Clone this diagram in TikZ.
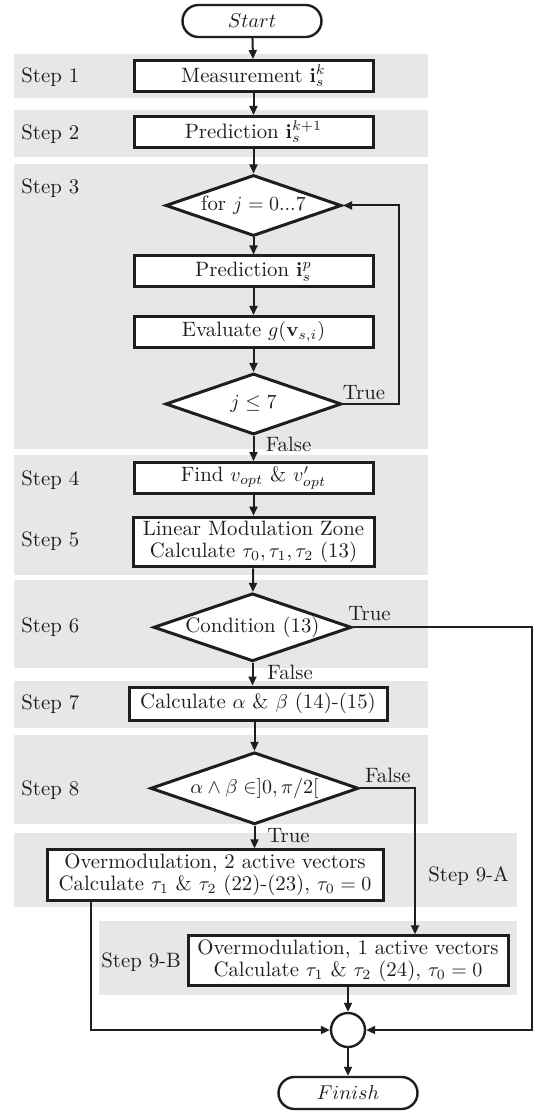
\documentclass[tikz,border=0pt]{standalone}
\usetikzlibrary{shapes.geometric,arrows.meta}
\definecolor{bandgray}{RGB}{230,231,233}
\definecolor{ink}{RGB}{30,30,30}
\begin{document}
\begin{tikzpicture}[x=0.5pt,y=-0.5pt,
  font=\fontsize{10.4}{11}\selectfont,
  every node/.style={text=ink},
  box/.style={draw=ink, line width=1.5pt, fill=white, minimum width=119.5pt, minimum height=15.5pt, inner sep=0pt, align=center},
  dia/.style={draw=ink, line width=1.5pt, fill=white, shape=diamond, aspect=3, inner sep=0pt},
  term/.style={draw=ink, line width=1.2pt, fill=white, rounded corners=8pt, minimum width=69.5pt, minimum height=16pt, inner sep=0pt},
  arr/.style={draw=ink, line width=1pt, -{Triangle[length=4.5pt,width=4pt]}},
  steplbl/.style={anchor=base west, inner sep=0pt},
  lbl/.style={anchor=base west, inner sep=0pt}]
\useasboundingbox (0,0) rectangle (537,1112);
% bands
\fill[bandgray] (14.4,54) rectangle (428,97.7);
\fill[bandgray] (14.4,110) rectangle (428,156.7);
\fill[bandgray] (14.4,164) rectangle (428,449.3);
\fill[bandgray] (14.4,455) rectangle (428,575);
\fill[bandgray] (14.4,580) rectangle (428,668.3);
\fill[bandgray] (14.4,681) rectangle (428,727.7);
\fill[bandgray] (14.4,735) rectangle (428,824);
\fill[bandgray] (14.4,833.3) rectangle (517,906.7);
\fill[bandgray] (99.3,921) rectangle (517,995);
% step labels
\node[steplbl] (s1) at (21,83) {Step 1};
\node[steplbl] (s2) at (21,140) {Step 2};
\node[steplbl] (s3) at (21,193.3) {Step 3};
\node[steplbl] (s4) at (21,485) {Step 4};
\node[steplbl] (s5) at (21,546.7) {Step 5};
\node[steplbl] (s6) at (21,632.7) {Step 6};
\node[steplbl] (s7) at (21,709.3) {Step 7};
\node[steplbl] (s8) at (21,795) {Step 8};
\node[steplbl] (s9a) at (428,881.7) {Step 9-A};
\node[steplbl] (s9b) at (101,967.3) {Step 9-B};
% nodes
\node[term] (start) at (252,21) {$Start$};
\node[box] (meas) at (253.5,76) {Measurement $\mathbf{i}_s^k$};
\node[box] (pred1) at (253.5,132) {Prediction $\mathbf{i}_s^{k+1}$};
\node[dia, minimum width=88pt, minimum height=30.5pt] (d1) at (253.5,205.5) {for $j=0...7$};
\node[box] (pred2) at (253.5,271.5) {Prediction $\mathbf{i}_s^p$};
\node[box] (eval) at (253.5,332) {Evaluate $g(\mathbf{v}_{s,i})$};
\node[dia, minimum width=88pt, minimum height=30.5pt] (d2) at (253.5,404) {$j\leq 7$};
\node[box] (find) at (253.5,478) {Find $v_{opt}$ \& $v'_{opt}$};
\node[box, minimum width=120.5pt, minimum height=24.8pt] (lin) at (253.5,542) {Linear Modulation Zone\\Calculate $\tau_0,\tau_1,\tau_2$ (13)};
\node[dia, minimum width=99pt, minimum height=34pt] (d3) at (252.5,627.3) {Condition (13)};
\node[box, minimum width=129pt, minimum height=16.5pt] (calc) at (258,703.5) {Calculate $\alpha$ \& $\beta$ (14)-(15)};
\node[dia, minimum width=104pt, minimum height=36pt] (d4) at (254.5,788.3) {$\alpha\wedge\beta\in]0,\pi/2[$};
\node[box, minimum width=168pt, minimum height=25.2pt] (om2) at (215,875) {Overmodulation, 2 active vectors\\Calculate $\tau_1$ \& $\tau_2$ (22)-(23), $\tau_0=0$};
\node[box, minimum width=160pt, minimum height=24.7pt] (om1) at (348,960.5) {Overmodulation, 1 active vectors\\Calculate $\tau_1$ \& $\tau_2$ (24), $\tau_0=0$};
\node[circle, draw=ink, line width=1.2pt, minimum size=17pt, inner sep=0pt, fill=white] (join) at (348,1030) {};
\node[term] (finish) at (348,1093) {$Finish$};
% helper coordinates
\coordinate (loopx) at (399,300);
\coordinate (fx) at (415,850);
\coordinate (rx) at (532,800);
\coordinate (lx) at (90.7,950);
% connectors
\draw[arr] (start) -- (meas);
\draw[arr] (meas) -- (pred1);
\draw[arr] (pred1) -- (d1);
\draw[arr] (d1) -- (pred2);
\draw[arr] (pred2) -- (eval);
\draw[arr] (eval) -- (d2);
\draw[arr] (d2.east) -- (d2.east -| loopx) -- (d1.east -| loopx) -- (d1.east);
\draw[arr] (d2) -- (find);
\draw[arr] (find) -- (lin);
\draw[arr] (lin) -- (d3);
\draw[arr] (d3.south) -- (d3.south |- calc.north);
\draw[arr] (calc.south -| d4.north) -- (d4.north);
\draw[arr] (d4.south) -- (d4.south |- om2.north);
\draw[arr] (d4.east) -- (d4.east -| fx) -- (fx |- om1.north);
\draw[arr] (d3.east) -- (d3.east -| rx) -- (rx |- join.east) -- (join.east);
\draw[arr] (om2.south -| lx) -- (lx |- join.west) -- (join.west);
\draw[arr] (om1) -- (join);
\draw[arr] (join) -- (finish);
% branch labels
\node[lbl] (t1) at (342.5,399.3) {True};
\node[lbl] (f1) at (265.4,451.7) {False};
\node[lbl] (t2) at (348,620) {True};
\node[lbl] (f2) at (267,679.3) {False};
\node[lbl] (f3) at (364.7,782.3) {False};
\node[lbl] (t3) at (267,842.3) {True};
\end{tikzpicture}
\end{document}
